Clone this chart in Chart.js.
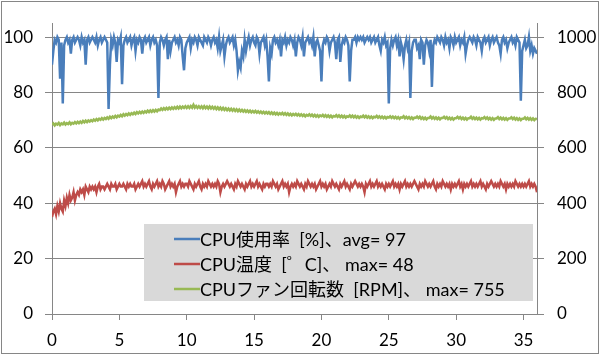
<!DOCTYPE html>
<html>
<head>
<meta charset="utf-8">
<script src="https://cdn.jsdelivr.net/npm/chart.js@4.4.1/dist/chart.umd.min.js"></script>
<style>
html,body{margin:0;padding:0;background:#fff;}
#wrap{width:600px;height:355px;position:relative;}
</style>
</head>
<body>
<div id="wrap"><canvas id="c" width="600" height="355"></canvas></div>
<script>
// sample interval (minutes) of the time axis
const sampleStep = 0.1;

const seriesLabels = [
  "CPU使用率  [%]、avg= 97",
  "CPU温度  [゜C]、 max= 48",
  "CPUファン回転数  [RPM]、 max= 755"
];

const xTicks = [0, 5, 10, 15, 20, 25, 30, 35];
const leftTicks = [0, 20, 40, 60, 80, 100];
const rightTicks = [0, 200, 400, 600, 800, 1000];

const cpuUsage = [
  90,95,99,98,100,99,85,98,76,97,
  99,100,98,99,94,99,100,98,99,100,
  99,97,100,98,99,90,99,100,98,99,
  100,99,98,100,97,99,100,98,99,100,
  99,98,74,90,99,97,100,98,91,99,
  98,100,83,97,99,100,98,99,100,97,
  99,100,95,99,98,100,99,94,99,100,
  98,99,100,97,99,100,98,99,97,78,
  98,100,99,97,99,100,92,99,95,98,
  99,100,98,99,97,100,99,93,88,96,
  98,99,100,96,99,98,100,99,97,100,
  99,98,97,100,99,98,100,99,97,99,
  100,98,99,96,100,95,97,99,93,97,
  99,100,98,99,100,97,99,95,88,91,
  89,95,93,99,95,98,100,97,99,100,
  98,97,100,99,94,98,99,100,97,99,
  93,84,96,94,99,100,98,99,97,99,
  93,99,98,100,97,99,98,100,99,97,
  99,93,98,100,99,97,100,93,98,99,
  100,98,99,97,100,93,98,99,97,95,
  84,97,99,98,100,99,95,98,99,100,
  98,92,99,100,91,97,99,98,100,99,
  97,84,95,99,99,100,98,100,99,100,
  99,100,98,99,100,99,100,98,99,100,
  98,99,100,97,95,99,98,100,97,98,
  76,96,99,97,99,100,97,99,93,98,
  96,92,97,99,96,98,78,95,98,99,
  99,96,97,92,99,98,90,97,99,98,
  95,99,82,97,99,98,100,99,98,100,
  99,97,100,98,99,96,100,99,97,100,
  98,99,100,97,99,98,100,94,97,99,
  100,99,98,100,99,97,100,99,98,95,
  99,100,98,99,100,97,99,100,98,99,
  100,98,97,94,99,100,98,99,96,98,
  99,100,98,99,97,100,99,98,77,95,
  97,99,96,97,100,95,97,94,96,95,
  94
];

const cpuTemp = [
  35,37,38,36,39,37,40,38,37,41,
  39,42,40,43,41,42,44,41,43,44,
  43,45,44,45,43,46,45,44,46,45,
  46,45,46,44,46,47,45,46,46,45,
  46,47,46,45,47,46,46,47,45,46,
  47,46,46,47,46,45,47,46,47,46,
  46,47,45,46,47,46,47,48,46,47,
  46,47,48,46,45,47,46,47,48,46,
  47,46,48,47,45,46,47,48,46,47,
  46,47,44,46,47,48,46,47,46,47,
  47,46,48,47,46,45,47,46,47,48,
  46,45,47,46,47,46,48,47,46,47,
  46,47,46,48,47,44,46,47,46,47,
  48,47,46,47,46,45,47,46,48,47,
  46,47,46,45,47,46,47,48,46,47,
  46,47,48,46,47,46,45,47,46,47,
  47,46,47,46,48,47,46,47,45,46,
  47,48,46,47,46,47,44,46,47,46,
  47,46,48,47,46,47,46,45,47,46,
  48,47,46,47,46,47,45,46,47,48,
  46,47,46,47,45,46,47,46,48,47,
  46,47,46,45,47,46,47,48,46,47,
  46,45,47,46,47,48,47,46,47,46,
  47,46,44,47,46,47,48,46,47,46,
  47,48,46,47,46,47,46,45,47,46,
  47,46,47,48,46,47,46,47,45,47,
  46,47,48,46,47,46,47,46,47,48,
  47,46,45,47,46,47,46,48,47,46,
  47,46,47,48,46,45,47,46,47,46,
  48,47,46,47,46,47,45,47,46,47,
  46,47,48,46,47,45,47,46,47,46,
  47,48,46,47,46,47,46,47,48,46,
  47,46,45,47,46,47,48,47,46,47,
  46,47,46,48,47,46,47,45,47,46,
  47,46,47,46,48,47,46,47,46,47,
  46,47,46,47,48,46,47,46,47,46,
  44
];

const fanRpm = [
  683,688,681,687,684,690,682,688,685,691,
  684,689,686,692,685,690,687,693,688,694,
  689,695,690,697,692,698,693,699,695,700,
  696,702,698,704,699,705,701,707,702,708,
  704,710,705,712,707,713,709,715,710,716,
  713,719,714,721,716,722,718,724,719,725,
  721,727,722,729,724,730,725,731,726,732,
  728,734,729,735,730,736,731,737,732,738,
  736,742,737,743,738,744,739,745,740,746,
  741,747,742,748,742,749,743,749,744,750,
  744,750,744,751,745,755,745,751,744,750,
  744,750,743,750,743,749,742,749,742,748,
  741,747,740,746,739,745,738,744,737,743,
  736,742,735,741,734,740,733,739,732,738,
  732,737,731,736,730,735,729,734,728,733,
  728,733,727,732,726,731,725,730,724,729,
  724,729,723,728,722,727,721,726,720,725,
  721,726,720,725,719,724,718,723,717,722,
  718,723,717,722,716,721,715,720,714,719,
  716,721,715,720,714,719,713,718,712,717,
  714,719,713,718,712,717,711,716,710,715,
  713,718,712,717,711,716,710,715,709,714,
  712,717,711,716,710,715,709,714,708,713,
  711,716,710,715,709,714,708,713,707,712,
  710,715,709,714,708,713,707,712,706,711,
  709,714,708,713,707,712,706,711,705,710,
  709,714,707,712,706,711,705,710,704,709,
  708,713,707,712,705,710,704,709,703,708,
  708,713,706,711,705,710,704,709,703,708,
  708,712,706,711,704,709,703,708,702,707,
  707,712,706,711,704,709,703,708,702,707,
  707,712,705,710,704,709,703,708,702,707,
  706,711,705,710,703,708,702,707,701,706,
  706,711,704,709,703,708,702,707,701,706,
  706,710,704,709,702,707,701,706,700,705,
  705,710,703,708,702,707,701,706,700,705,
  704
];

const colors = ["#4a7ebb", "#be4b48", "#98b954"];
const FONT = "Lato, 'Noto Sans CJK JP', sans-serif";

function toPoints(arr){ return arr.map((v,i)=>({x: +(i*sampleStep).toFixed(2), y: v})); }

const bgPlugin = {
  id:'bg',
  beforeDraw(chart){
    const ctx = chart.ctx;
    ctx.save();
    ctx.fillStyle = '#fff';
    ctx.fillRect(0,0,chart.width,chart.height);
    ctx.restore();
  },
  afterDraw(chart){
    const ctx = chart.ctx;
    ctx.save();
    // legend box
    const bx=144, by=224, bw=389, bh=77;
    ctx.fillStyle = '#d9d9d9';
    ctx.fillRect(bx,by,bw,bh);
    const rows=[239,264,289];
    chart.data.datasets.forEach((ds,i)=>{
      ctx.strokeStyle = ds.borderColor;
      ctx.lineWidth = 2.5;
      ctx.beginPath();
      ctx.moveTo(174, rows[i]); ctx.lineTo(200, rows[i]);
      ctx.stroke();
      ctx.fillStyle = '#000';
      ctx.font = "18px " + FONT;
      ctx.textBaseline = 'middle';
      ctx.textAlign = 'left';
      ctx.fillText(ds.label, 200, rows[i]+1);
    });
    // outer border
    ctx.strokeStyle = '#868686';
    ctx.lineWidth = 1;
    ctx.strokeRect(1.5,1.5,597,352);
    ctx.restore();
  }
};

const gridColor = '#868686';
const plain = v => String(v);

new Chart(document.getElementById('c'), {
  type: 'line',
  data: {
    datasets: [
      {label: seriesLabels[0], data: toPoints(cpuUsage), borderColor: colors[0], yAxisID: 'y'},
      {label: seriesLabels[1], data: toPoints(cpuTemp), borderColor: colors[1], yAxisID: 'y'},
      {label: seriesLabels[2], data: toPoints(fanRpm), borderColor: colors[2], yAxisID: 'y2'}
    ]
  },
  options: {
    responsive: false,
    animation: false,
    devicePixelRatio: 1,
    layout: {padding: {top: 13, left: 0, right: 0, bottom: 0}},
    elements: {
      point: {radius: 0, hoverRadius: 0},
      line: {borderWidth: 2.5, tension: 0, fill: false}
    },
    plugins: {legend: {display: false}, tooltip: {enabled: false}},
    scales: {
      x: {
        type: 'linear', min: 0, max: 36,
        afterBuildTicks(s){ s.ticks = xTicks.map(v=>({value:v})); },
        afterFit(s){ s.height = 41; },
        grid: {drawOnChartArea: false, color: gridColor, tickLength: 6, lineWidth: 1},
        border: {color: gridColor, width: 1},
        ticks: {color: '#000', font: {family: FONT, size: 17}, padding: 10, maxRotation: 0, autoSkip: false, callback: plain}
      },
      y: {
        type: 'linear', position: 'left', min: 0, max: 105,
        afterBuildTicks(s){ s.ticks = leftTicks.map(v=>({value:v})); },
        afterFit(s){ s.width = 52; },
        grid: {color: gridColor, tickLength: 7, lineWidth: 1},
        border: {color: gridColor, width: 1},
        ticks: {color: '#000', font: {family: FONT, size: 17}, padding: 12, callback: plain}
      },
      y2: {
        type: 'linear', position: 'right', min: 0, max: 1050,
        afterBuildTicks(s){ s.ticks = rightTicks.map(v=>({value:v})); },
        afterFit(s){ s.width = 63; },
        grid: {drawOnChartArea: false, color: gridColor, tickLength: 7, lineWidth: 1},
        border: {color: gridColor, width: 1},
        ticks: {color: '#000', font: {family: FONT, size: 17}, padding: 13, callback: plain}
      }
    }
  },
  plugins: [bgPlugin]
});
</script>
</body>
</html>
